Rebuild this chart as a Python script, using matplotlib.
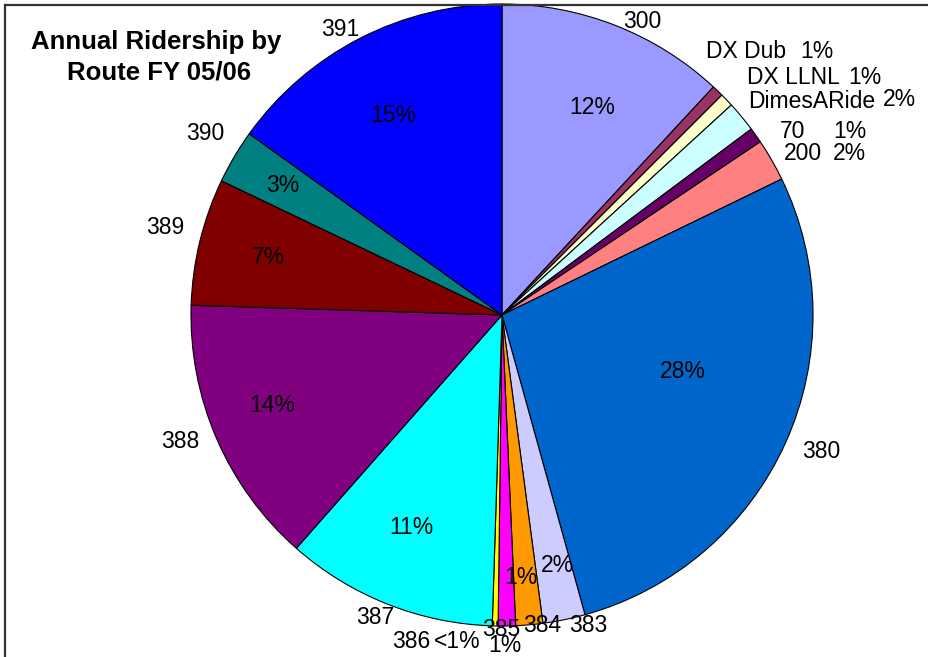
import matplotlib.pyplot as plt

plt.rcParams["font.family"] = ["Liberation Sans", "DejaVu Sans"]

# route share of annual ridership, percent
ROUTES = ["300", "DX Dub", "DX LLNL", "DimesARide", "70", "200", "380", "383",
          "384", "385", "386", "387", "388", "389", "390", "391"]
SHARE = [11.9, 0.6, 0.7, 1.6, 0.8, 2.2, 27.9, 2.2,
         1.4, 0.9, 0.3, 11.0, 14.0, 6.6, 2.8, 15.1]
COLORS = ["#9999FF", "#993366", "#FFFFCC", "#CCFFFF", "#660066", "#FF8080",
          "#0066CC", "#CCCCFF", "#FF9900", "#FF00FF", "#FFFF00", "#00FFFF",
          "#800080", "#800000", "#008080", "#0000FF"]

W, H = 929, 657
CENTER = (502, 315)
RADIUS = 311

# label placement in pixels (from top-left): route name, then percentage
NAME_POS = {
    "300": (642, 22, "center"), "DX Dub": (706, 51, "left"),
    "DX LLNL": (747, 78, "left"), "DimesARide": (748, 102, "left"),
    "70": (780, 131, "left"), "200": (784, 153, "left"),
    "380": (821, 451, "center"), "383": (588, 625, "center"),
    "384": (542, 626, "center"), "385": (501, 630, "center"),
    "386": (392, 641, "left"), "387": (375, 617, "center"),
    "388": (180, 442, "center"), "389": (165, 227, "center"),
    "390": (205, 133, "center"), "391": (340, 30, "center"),
}
PCT_POS = {
    "300": (592, 108, "center"), "DX Dub": (800, 51, "left"),
    "DX LLNL": (848, 78, "left"), "DimesARide": (883, 99, "left"),
    "70": (833, 131, "left"), "200": (833, 153, "left"),
    "380": (683, 372, "center"), "383": (557, 565, "center"),
    "384": (521, 577, "center"), "385": (505, 646, "center"),
    "386": (481, 641, "right"), "387": (411, 527, "center"),
    "388": (272, 406, "center"), "389": (268, 258, "center"),
    "390": (283, 185, "center"), "391": (393, 115, "center"),
}


def pct_text(v):
    return "<1%" if v < 0.5 else f"{round(v)}%"


fig = plt.figure(figsize=(W / 100, H / 100), dpi=100)
ax = fig.add_axes([0, 0, 1, 1])

ax.pie(
    SHARE,
    colors=COLORS,
    center=(CENTER[0], H - CENTER[1]),
    radius=RADIUS,
    startangle=90,
    counterclock=False,
    normalize=True,
    wedgeprops={"edgecolor": "black", "linewidth": 0.8},
    frame=True,
)
ax.set_xlim(0, W)
ax.set_ylim(0, H)
ax.set_aspect("equal")
ax.axis("off")

FS = 16.5
for name, v in zip(ROUTES, SHARE):
    x, y, ha = NAME_POS[name]
    ax.text(x, H - y, name, fontsize=FS, ha=ha, va="center")
    x, y, ha = PCT_POS[name]
    ax.text(x, H - y, pct_text(v), fontsize=FS, ha=ha, va="center")

ax.text(156, H - 42, "Annual Ridership by", fontsize=18.5, fontweight="bold",
        ha="center", va="center")
ax.text(159, H - 73, "Route FY 05/06", fontsize=18.5, fontweight="bold",
        ha="center", va="center")

# chart frame, only top and left edges fall inside the image
ax.plot([5, W], [H - 5, H - 5], color="#333333", lw=1.6, clip_on=False)
ax.plot([5, 5], [H - 5, 0], color="#333333", lw=1.6, clip_on=False)

fig.savefig("out.png", dpi=100)
